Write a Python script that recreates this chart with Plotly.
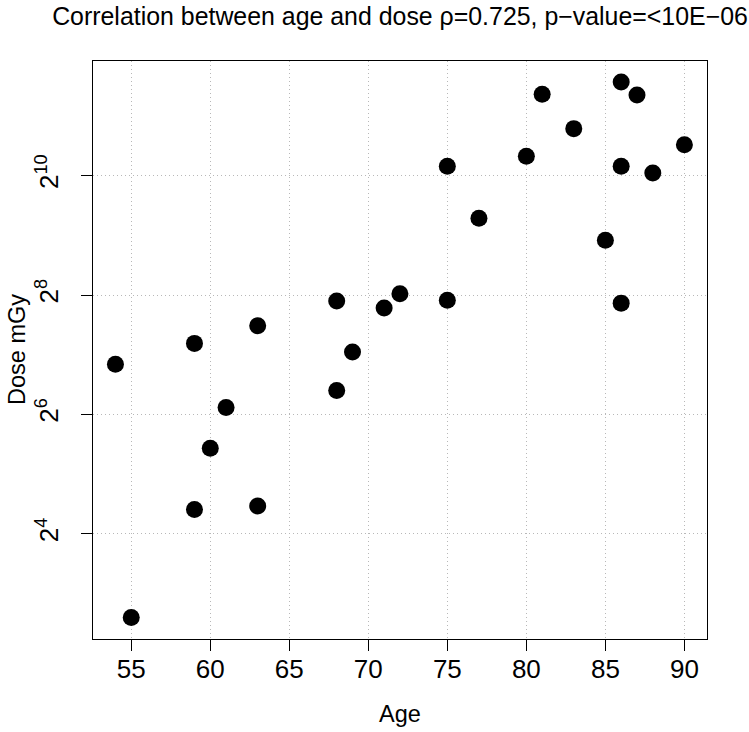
import math
import plotly.graph_objects as go

# Data
age = [54, 55, 59, 59, 60, 61, 63, 63, 68, 68, 69, 71, 72, 75, 75, 77, 80, 81, 83, 85, 86, 86, 86, 87, 88, 90]
dose = [114.5, 6.05, 146, 21.2, 43.2, 69.3, 179, 22.1, 239, 84.4, 132, 220, 260, 1141, 241, 624,
        1281, 2632, 1767, 483, 3036, 1141, 233, 2610, 1055, 1467]

x_ticks = [55, 60, 65, 70, 75, 80, 85, 90]
y_ticks = [16, 64, 256, 1024]
y_tick_labels = ["2<sup>4</sup>", "2<sup>6</sup>", "2<sup>8</sup>", "2<sup>10</sup>"]

title_text = "Correlation between age and dose \u03c1=0.725, p\u2212value=&lt;10E\u221206"
FONT = "Liberation Sans, Arial, Helvetica, sans-serif"

W, H = 749, 732
ML, MR, MT, MB = 93, 42, 61, 93
PW, PH = W - ML - MR, H - MT - MB

fig = go.Figure()
fig.add_trace(go.Scatter(
    x=age, y=dose, mode="markers",
    marker=dict(color="black", size=17, line=dict(width=0)),
    showlegend=False, hoverinfo="x+y",
))

l2 = math.log10(2)
grid = dict(showgrid=True, gridcolor="#b8b8b8", griddash="1px,3px", gridwidth=1)
fig.update_layout(
    width=W, height=H, autosize=False,
    margin=dict(l=ML, r=MR, t=MT, b=MB),
    plot_bgcolor="white", paper_bgcolor="white",
    font=dict(family=FONT, color="black"),
    title=dict(text=title_text, x=0.5, xref="paper", xanchor="center",
               y=1 - 16 / H, yref="container", yanchor="middle",
               font=dict(size=24.9, family=FONT, color="black")),
    xaxis=dict(range=[52.58, 91.43], tickvals=x_ticks, ticks="outside", ticklen=11,
               tickwidth=1, tickcolor="black", showline=True, mirror=True,
               linecolor="black", linewidth=1, zeroline=False, ticklabelstandoff=-4,
               tickfont=dict(size=26, family=FONT, color="black"), **grid),
    yaxis=dict(type="log", range=[2.238 * l2, 11.92 * l2], tickvals=y_ticks,
               ticktext=y_tick_labels, tickangle=-90, ticks="outside", ticklen=11,
               tickwidth=1, tickcolor="black", showline=True, mirror=True,
               linecolor="black", linewidth=1, zeroline=False, ticklabelstandoff=13,
               tickfont=dict(size=26, family=FONT, color="black"), **grid),
    annotations=[
        dict(text="Age", xref="paper", yref="paper", x=0.5, y=(639 - 714) / PH,
             xanchor="center", yanchor="middle", showarrow=False,
             font=dict(size=23.5, family=FONT, color="black")),
        dict(text="Dose mGy", xref="paper", yref="paper", x=(17 - ML) / PW, y=0.5,
             xanchor="center", yanchor="middle", textangle=-90, showarrow=False,
             font=dict(size=23.5, family=FONT, color="black")),
    ],
)

fig.write_html("out.html", config={"displayModeBar": False},
               post_script="document.body.style.margin='0';")
